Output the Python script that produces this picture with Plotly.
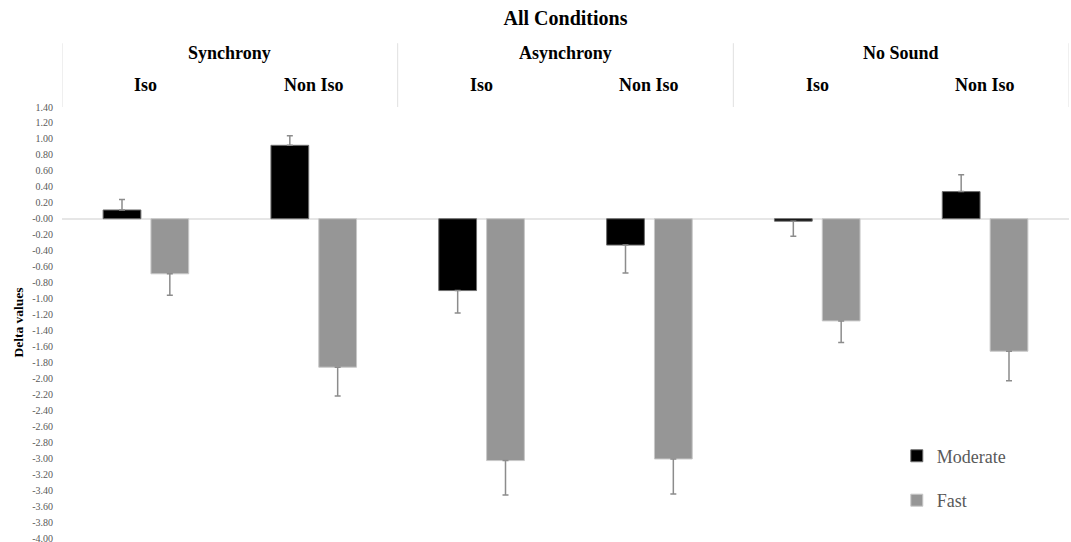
import plotly.graph_objects as go

# Conditions and sub-conditions (x categories)
groups = ["Synchrony", "Asynchrony", "No Sound"]
subgroups = ["Iso", "Non Iso"]
categories = ["Synchrony Iso", "Synchrony Non Iso", "Asynchrony Iso",
              "Asynchrony Non Iso", "No Sound Iso", "No Sound Non Iso"]

# Mean delta values and error (SE) per tempo
moderate = [0.11, 0.92, -0.90, -0.33, -0.03, 0.34]
moderate_err = [0.13, 0.12, 0.28, 0.35, 0.19, 0.21]
fast = [-0.69, -1.86, -3.03, -3.01, -1.28, -1.66]
fast_err = [0.27, 0.36, 0.43, 0.44, 0.27, 0.37]

# y axis ticks
y_ticks = [round(1.4 - 0.2 * i, 2) for i in range(28)]
y_tick_labels = [f"{v:.2f}" for v in y_ticks]

SERIF = "Liberation Serif, Times New Roman, serif"
TXT = "#595959"


def one_sided(vals, errs):
    """Error bars drawn only away from zero."""
    up = [e if v >= 0 else 0 for v, e in zip(vals, errs)]
    down = [e if v < 0 else 0 for v, e in zip(vals, errs)]
    return dict(type="data", array=up, arrayminus=down, symmetric=False,
                color="#8c8c8c", thickness=1.5, width=3)


fig = go.Figure()
fig.add_trace(go.Bar(
    x=categories, y=moderate, name="Moderate", legendgroup="m",
    marker=dict(color="#000000", line=dict(color="#6e6e6e", width=1)),
    error_y=one_sided(moderate, moderate_err),
))
fig.add_trace(go.Bar(
    x=categories, y=fast, name="Fast", legendgroup="f",
    marker=dict(color="#969696", line=dict(color="#c8c8c8", width=1)),
    error_y=one_sided(fast, fast_err),
))

annotations = []
# group headers
for gi, g in enumerate(groups):
    annotations.append(dict(
        x=gi * 2 + 0.5, xref="x", y=1.125, yref="paper", text=f"<b>{g}</b>",
        showarrow=False, xanchor="center", yanchor="middle",
        font=dict(family=SERIF, size=18, color="#000000")))
    for si, s in enumerate(subgroups):
        annotations.append(dict(
            x=gi * 2 + si, xref="x", y=1.051, yref="paper", text=f"<b>{s}</b>",
            showarrow=False, xanchor="center", yanchor="middle",
            font=dict(family=SERIF, size=18, color="#000000")))

# vertical dividers between condition blocks in the header
shapes = []
for xv in [-0.5, 1.5, 3.5, 5.5]:
    shapes.append(dict(type="line", xref="x", yref="paper", x0=xv, x1=xv,
                       y0=1.0, y1=1.148, line=dict(color="#e0e0e0", width=1)))

fig.update_layout(
    width=1071, height=542,
    margin=dict(l=62, r=2, t=107, b=4, autoexpand=False),
    paper_bgcolor="white", plot_bgcolor="white",
    barmode="group", bargap=0.43, bargroupgap=0.21,
    title=dict(text="<b>All Conditions</b>", x=0.5, xref="paper", xanchor="center",
               y=1 - 18 / 542, yref="container", yanchor="middle",
               font=dict(family=SERIF, size=20, color="#000000")),
    annotations=annotations, shapes=shapes,
    legend=dict(x=0.829, y=0.233, xanchor="left", yanchor="top",
                font=dict(family=SERIF, size=18, color=TXT),
                tracegroupgap=18, bgcolor="rgba(0,0,0,0)"),
    showlegend=True,
)
fig.update_xaxes(
    range=[-0.5, 5.5], showticklabels=False, ticks="", showgrid=False,
    zeroline=False, showline=False,
)
fig.update_yaxes(
    range=[-4.0, 1.4], tickvals=y_ticks, ticktext=y_tick_labels,
    tickfont=dict(family=SERIF, size=10, color=TXT), ticklabelstandoff=8,
    ticklabeloverflow="allow", automargin=False,
    showgrid=False, zeroline=True, zerolinecolor="#e6e6e6", zerolinewidth=1.5,
    showline=False, ticks="",
    title=dict(text="<b>Delta values</b>", standoff=5,
               font=dict(family=SERIF, size=13.5, color="#000000")),
)

fig.write_html("out.html")
